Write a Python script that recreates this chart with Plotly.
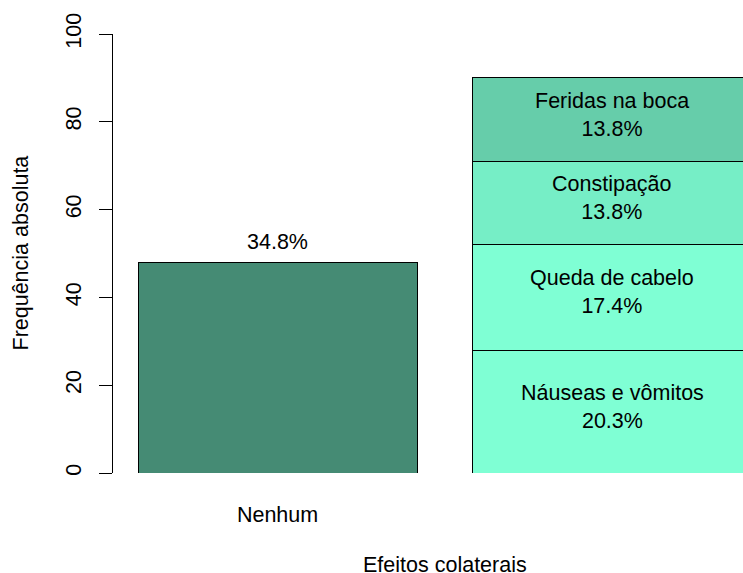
import plotly.graph_objects as go

# Data
none_label = "Nenhum"
none_count = 48
effects = ["Náuseas e vômitos", "Queda de cabelo", "Constipação", "Feridas na boca"]
effect_counts = [28, 24, 19, 19]
effect_colors = ["#7FFFD4", "#7FFFD4", "#76EEC6", "#66CDAA"]
none_color = "#458B74"
y_ticks = [0, 20, 40, 60, 80, 100]

total = none_count + sum(effect_counts)
FONT = "Liberation Sans, Arial, sans-serif"
FS = 21.5

x_none = 0.7
x_eff = 1.9

fig = go.Figure()
fig.add_trace(go.Bar(
    x=[x_none], y=[none_count], width=1,
    marker=dict(color=none_color, line=dict(color="black", width=1)),
    showlegend=False, hoverinfo="skip",
))
for name, cnt, col in zip(effects, effect_counts, effect_colors):
    fig.add_trace(go.Bar(
        x=[x_eff], y=[cnt], width=1,
        marker=dict(color=col, line=dict(color="black", width=1)),
        showlegend=False, hoverinfo="skip",
    ))

annotations = [
    dict(text=f"{100*none_count/total:.1f}%", xref="x", yref="y",
         x=x_none, y=none_count, yshift=20, showarrow=False,
         xanchor="center", yanchor="middle",
         font=dict(size=FS, family=FONT, color="black")),
]
base = 0
for name, cnt in zip(effects, effect_counts):
    annotations.append(dict(
        text=f"{name}<br>{100*cnt/total:.1f}%", xref="x", yref="y",
        x=x_eff, y=base + cnt / 2, yshift=5, showarrow=False,
        xanchor="center", yanchor="middle",
        font=dict(size=FS, family=FONT, color="black")))
    base += cnt

annotations += [
    dict(text="Efeitos colaterais", xref="x", yref="paper", x=1.3, y=0,
         yshift=-92, showarrow=False, xanchor="center", yanchor="middle",
         font=dict(size=FS, family=FONT, color="black")),
    dict(text="Frequência absoluta", xref="paper", yref="paper", x=0, y=0.5,
         xshift=-93, showarrow=False, textangle=-90, xanchor="center",
         yanchor="middle", font=dict(size=FS, family=FONT, color="black")),
]

fig.update_layout(
    barmode="stack",
    width=743, height=573,
    margin=dict(l=113, r=0, t=34, b=100),
    plot_bgcolor="white", paper_bgcolor="white",
    font=dict(family=FONT, size=FS, color="black"),
    xaxis=dict(
        range=[0.1104, 2.368], showgrid=False, zeroline=False, showline=False,
        tickvals=[x_none], ticktext=[none_label], ticks="",
        ticklabelstandoff=26,
        tickfont=dict(size=FS, family=FONT, color="black"),
    ),
    yaxis=dict(
        range=[0, 100], tickvals=y_ticks, showgrid=False, zeroline=False,
        showline=True, linecolor="black", linewidth=1,
        ticks="outside", ticklen=13, tickcolor="black", tickwidth=1,
        tickangle=-90, ticklabelstandoff=9,
        tickfont=dict(size=FS, family=FONT, color="black"),
    ),
    annotations=annotations,
)

fig.write_html(
    "out.html",
    config={"displayModeBar": False},
    post_script="document.body.style.margin='0';document.body.style.overflow='hidden';",
)
